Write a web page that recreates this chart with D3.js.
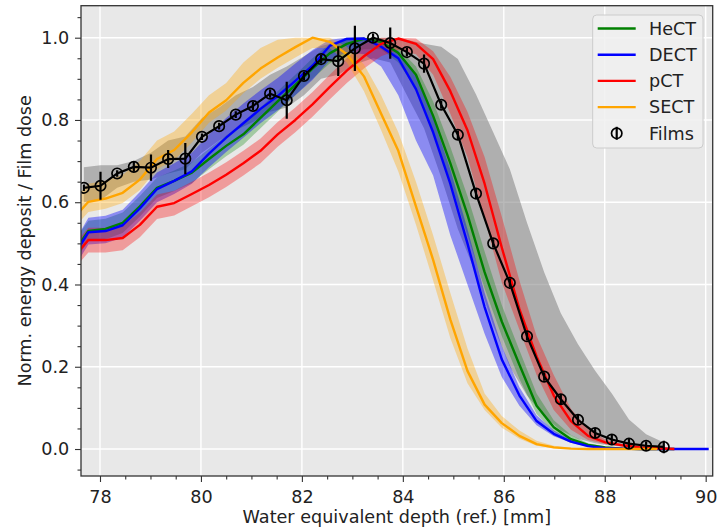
<!DOCTYPE html>
<html><head><meta charset="utf-8">
<script src="https://cdn.jsdelivr.net/npm/d3@7"></script>
<style>body{margin:0;background:#fff} svg{display:block} text{font-family:"DejaVu Sans",sans-serif}</style>
</head><body><svg id="c" width="719" height="531"></svg>
<script>
// ---- data ----
const depthModel = [77.43,77.77,78.11,78.45,78.79,79.13,79.47,79.82,80.16,80.50,80.84,81.18,81.52,81.87,82.21,82.55,82.89,83.23,83.57,83.91,84.26,84.60,84.94,85.28,85.62,85.96,86.31,86.65,86.99,87.33,87.67,88.01,88.35,88.70,89.04,89.38,89.72,90.06];

const heCT    = [0.47,0.53,0.535,0.55,0.59,0.635,0.652,0.672,0.705,0.737,0.765,0.805,0.845,0.885,0.925,0.962,0.985,0.997,0.99,0.963,0.91,0.81,0.695,0.57,0.43,0.31,0.205,0.105,0.053,0.024,0.01,0.004,0.001,0,0,0];
const heCTLo  = [0.445,0.505,0.51,0.525,0.565,0.61,0.627,0.647,0.68,0.712,0.74,0.78,0.82,0.86,0.90,0.937,0.96,0.972,0.972,0.94,0.875,0.77,0.65,0.52,0.39,0.275,0.17,0.085,0.042,0.018,0.007,0.002,0,0,0,0];
const heCTHi  = [0.495,0.555,0.56,0.575,0.615,0.66,0.677,0.697,0.73,0.762,0.79,0.83,0.87,0.91,0.95,0.985,1.0,1.0,0.998,0.975,0.93,0.845,0.735,0.615,0.48,0.35,0.24,0.135,0.07,0.034,0.014,0.006,0.002,0,0,0];

const deCT    = [0.46,0.527,0.530,0.544,0.585,0.632,0.652,0.675,0.718,0.757,0.792,0.827,0.858,0.895,0.932,0.980,0.997,0.998,0.978,0.950,0.875,0.770,0.645,0.500,0.345,0.218,0.130,0.068,0.037,0.018,0.007,0.002,0.001,0,0,0,0,0];
const deCTLo  = [0.43,0.497,0.50,0.514,0.555,0.60,0.62,0.645,0.685,0.722,0.757,0.792,0.823,0.86,0.897,0.945,0.965,0.96,0.93,0.86,0.75,0.665,0.52,0.40,0.28,0.175,0.105,0.058,0.031,0.015,0.005,0.001,0,0,0,0,0,0];
const deCTHi  = [0.49,0.562,0.567,0.582,0.625,0.672,0.695,0.72,0.765,0.805,0.84,0.872,0.902,0.937,0.97,0.995,1.0,1.0,0.99,0.968,0.905,0.805,0.68,0.535,0.38,0.25,0.15,0.082,0.045,0.022,0.009,0.003,0.001,0,0,0,0,0];

const pCT     = [0.46,0.508,0.508,0.513,0.545,0.589,0.598,0.62,0.642,0.667,0.695,0.725,0.765,0.80,0.838,0.88,0.92,0.955,0.985,0.998,0.985,0.948,0.87,0.775,0.645,0.49,0.34,0.225,0.13,0.068,0.032,0.016,0.009,0.004,0.002,0];
const pCTLo   = [0.43,0.478,0.478,0.483,0.515,0.559,0.568,0.59,0.612,0.637,0.665,0.695,0.735,0.77,0.808,0.85,0.89,0.925,0.955,0.97,0.96,0.91,0.815,0.71,0.56,0.405,0.29,0.18,0.095,0.047,0.022,0.012,0.006,0.003,0.001,0];
const pCTHi   = [0.49,0.538,0.538,0.543,0.575,0.619,0.628,0.65,0.672,0.697,0.725,0.755,0.795,0.83,0.868,0.91,0.95,0.985,1.0,1.0,0.998,0.967,0.905,0.82,0.71,0.565,0.41,0.275,0.18,0.098,0.048,0.023,0.012,0.006,0.003,0.001];

const seCT    = [0.555,0.601,0.609,0.623,0.655,0.705,0.727,0.77,0.818,0.848,0.89,0.925,0.952,0.977,1.0,0.99,0.96,0.906,0.815,0.725,0.59,0.46,0.315,0.19,0.108,0.063,0.032,0.012,0.004,0.001,0,0,0,0,0];
const seCTLo  = [0.53,0.576,0.584,0.598,0.63,0.68,0.702,0.745,0.793,0.823,0.865,0.9,0.927,0.952,0.975,0.975,0.94,0.87,0.775,0.675,0.545,0.41,0.27,0.16,0.095,0.052,0.025,0.008,0.002,0,0,0,0,0,0];
const seCTHi  = [0.60,0.645,0.652,0.667,0.70,0.75,0.772,0.815,0.86,0.89,0.94,0.975,0.995,1.0,1.0,1.0,0.978,0.935,0.86,0.77,0.65,0.52,0.38,0.245,0.135,0.08,0.045,0.02,0.008,0.003,0.001,0,0,0,0];

const filmDepth = [77.68,78.01,78.34,78.67,79.01,79.35,79.69,80.02,80.36,80.69,81.03,81.37,81.70,82.04,82.38,82.72,83.05,83.41,83.75,84.08,84.42,84.76,85.09,85.45,85.79,86.12,86.46,86.80,87.13,87.47,87.81,88.14,88.48,88.82,89.17];
const film      = [0.635,0.640,0.670,0.686,0.684,0.705,0.706,0.759,0.785,0.813,0.834,0.864,0.848,0.907,0.948,0.943,0.974,1.0,0.987,0.965,0.937,0.837,0.764,0.621,0.50,0.404,0.274,0.176,0.121,0.071,0.039,0.023,0.013,0.008,0.005];
const filmErr   = [0.008,0.034,0.008,0.012,0.032,0.022,0.038,0.008,0.008,0.008,0.01,0.01,0.045,0.01,0.01,0.036,0.055,0.01,0.038,0.01,0.022,0.01,0.01,0.012,0.01,0.01,0.01,0.01,0.012,0.012,0.012,0.012,0.012,0.01,0.015];
const filmLo    = [0.60,0.605,0.635,0.65,0.655,0.67,0.68,0.72,0.75,0.775,0.795,0.82,0.83,0.86,0.90,0.91,0.935,0.95,0.94,0.86,0.78,0.66,0.535,0.425,0.30,0.20,0.13,0.08,0.045,0.025,0.014,0.008,0.005,0.003,0.002];
const filmHi    = [0.685,0.69,0.69,0.70,0.72,0.75,0.76,0.805,0.83,0.86,0.88,0.91,0.93,0.955,0.98,0.99,1.0,1.0,1.0,0.995,0.985,0.978,0.948,0.862,0.77,0.68,0.55,0.43,0.33,0.255,0.19,0.135,0.072,0.036,0.016];

const seriesNames = ["HeCT","DECT","pCT","SECT"];
const xTicks = [78,80,82,84,86,88,90];
const xMinor = [78.5,79,79.5,80.5,81,81.5,82.5,83,83.5,84.5,85,85.5,86.5,87,87.5,88.5,89,89.5];
const yTicks = [0.0,0.2,0.4,0.6,0.8,1.0];
const yMinor = [-0.05,0.05,0.1,0.15,0.25,0.3,0.35,0.45,0.5,0.55,0.65,0.7,0.75,0.85,0.9,0.95,1.05];

// ---- drawing ----
const svg = d3.select("#c");
const L=81, R=712.7, T=5.7, B=476;
const FS = "17.6px";
const x = d3.scaleLinear().domain([77.6236, 90.139]).range([L, R]);
const y = d3.scaleLinear().domain([-0.0656, 1.0778]).range([B, T]);

svg.append("rect").attr("x",L).attr("y",T).attr("width",R-L).attr("height",B-T).attr("fill","#e8e8e8");

const grid = svg.append("g");
grid.selectAll(".gx").data(xTicks).join("line")
  .attr("x1",d=>x(d)).attr("x2",d=>x(d)).attr("y1",T).attr("y2",B)
  .attr("stroke","#fff").attr("stroke-width",1.4);
grid.selectAll(".gy").data(yTicks).join("line")
  .attr("y1",d=>y(d)).attr("y2",d=>y(d)).attr("x1",L).attr("x2",R)
  .attr("stroke","#fff").attr("stroke-width",1.4);

svg.append("clipPath").attr("id","clip").append("rect")
  .attr("x",L).attr("y",T).attr("width",R-L).attr("height",B-T);
const plot = svg.append("g").attr("clip-path","url(#clip)");

function pts(depth, v, lo, hi){ return v.map((d,i)=>({x:depth[i], v:d, lo:lo?lo[i]:null, hi:hi?hi[i]:null})); }
const area = d3.area().x(d=>x(d.x)).y0(d=>y(d.lo)).y1(d=>y(d.hi));
const line = d3.line().x(d=>x(d.x)).y(d=>y(d.v));

const models = [
  {name:"HeCT", color:"#008000", v:heCT, lo:heCTLo, hi:heCTHi, op:0.3},
  {name:"DECT", color:"#0000ff", v:deCT, lo:deCTLo, hi:deCTHi, op:0.4},
  {name:"pCT",  color:"#ff0000", v:pCT,  lo:pCTLo,  hi:pCTHi,  op:0.33},
  {name:"SECT", color:"#ffa500", v:seCT, lo:seCTLo, hi:seCTHi, op:0.35}
];
models.forEach(m=>m.data=pts(depthModel, m.v, m.lo, m.hi));
const filmData = pts(filmDepth, film, filmLo, filmHi);

// bands
plot.append("path").datum(filmData).attr("d",area).attr("fill","#808080").attr("fill-opacity",0.55);
models.forEach(m=>{
  plot.append("path").datum(m.data).attr("d",area).attr("fill",m.color).attr("fill-opacity",m.op);
});
// lines
models.forEach(m=>{
  plot.append("path").datum(m.data).attr("d",line).attr("fill","none")
    .attr("stroke",m.color).attr("stroke-width",2.4).attr("stroke-linejoin","round");
});
// films
plot.append("path").datum(filmData).attr("d",line).attr("fill","none")
  .attr("stroke","#000").attr("stroke-width",2.2);
plot.selectAll(".err").data(filmData.map((d,i)=>({x:d.x,v:d.v,e:filmErr[i]}))).join("line")
  .attr("x1",d=>x(d.x)).attr("x2",d=>x(d.x)).attr("y1",d=>y(d.v-d.e)).attr("y2",d=>y(d.v+d.e))
  .attr("stroke","#000").attr("stroke-width",2.2);
plot.selectAll(".mk").data(filmData).join("circle")
  .attr("cx",d=>x(d.x)).attr("cy",d=>y(d.v)).attr("r",5.2)
  .attr("fill","none").attr("stroke","#000").attr("stroke-width",1.7);

// frame
svg.append("rect").attr("x",L).attr("y",T).attr("width",R-L).attr("height",B-T)
  .attr("fill","none").attr("stroke","#333").attr("stroke-width",1.3);

// axes
function styleAxis(g){ g.select(".domain").remove(); g.selectAll("line").attr("stroke","#333").attr("stroke-width",1.1);
  g.selectAll("text").attr("font-size",FS).attr("font-family","DejaVu Sans").attr("fill","#222"); }
svg.append("g").attr("transform",`translate(0,${B})`)
  .call(d3.axisBottom(x).tickValues(xTicks).tickFormat(d3.format("d")).tickSize(6).tickPadding(8.3)).call(styleAxis);
svg.append("g").attr("transform",`translate(0,${B})`)
  .call(d3.axisBottom(x).tickValues(xMinor).tickFormat("").tickSize(3.5)).call(styleAxis);
svg.append("g").attr("transform",`translate(${L},0)`)
  .call(d3.axisLeft(y).tickValues(yTicks).tickFormat(d3.format(".1f")).tickSize(6).tickPadding(5.8)).call(styleAxis);
svg.append("g").attr("transform",`translate(${L},0)`)
  .call(d3.axisLeft(y).tickValues(yMinor).tickFormat("").tickSize(3.5)).call(styleAxis);

// axis labels
svg.append("text").attr("x",(L+R)/2).attr("y",523).attr("text-anchor","middle")
  .attr("font-size",FS).attr("fill","#222").text("Water equivalent depth (ref.) [mm]");
svg.append("text").attr("transform",`translate(31,${(T+B)/2}) rotate(-90)`).attr("text-anchor","middle")
  .attr("font-size",FS).attr("fill","#222").text("Norm. energy deposit / Film dose");

// legend
const lg = svg.append("g");
lg.append("rect").attr("x",592.7).attr("y",15).attr("width",110.3).attr("height",133).attr("rx",4)
  .attr("fill","#f0f0f0").attr("fill-opacity",0.85).attr("stroke","#cccccc").attr("stroke-width",1);
const ly = i => 28.5 + i*26.2;
models.forEach((m,i)=>{
  lg.append("line").attr("x1",597.7).attr("x2",635.7).attr("y1",ly(i)).attr("y2",ly(i))
    .attr("stroke",m.color).attr("stroke-width",2.4);
  lg.append("text").attr("x",649).attr("y",ly(i)+6.3).attr("font-size",FS).attr("fill","#222").text(m.name);
});
const fy = ly(4);
lg.append("line").attr("x1",616.7).attr("x2",616.7).attr("y1",fy-6.5).attr("y2",fy+6.5).attr("stroke","#000").attr("stroke-width",2.2);
lg.append("circle").attr("cx",616.7).attr("cy",fy).attr("r",5.2).attr("fill","none").attr("stroke","#000").attr("stroke-width",1.7);
lg.append("text").attr("x",649).attr("y",fy+6.3).attr("font-size",FS).attr("fill","#222").text("Films");
</script></body></html>
